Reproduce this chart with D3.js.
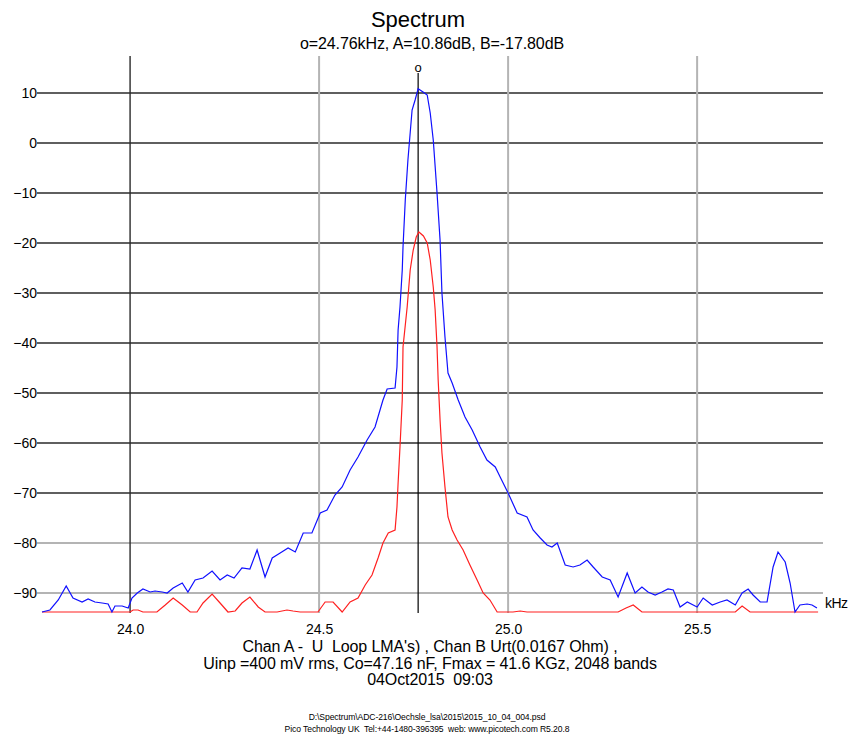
<!DOCTYPE html>
<html>
<head>
<meta charset="utf-8">
<script src="https://cdn.jsdelivr.net/npm/d3@7"></script>
<style>
  html, body { margin: 0; padding: 0; background: #fff; }
  svg text { font-family: "Liberation Sans", Arial, sans-serif; fill: #000; white-space: pre; }
</style>
</head>
<body>
<svg id="chart" width="855" height="743"></svg>
<script>
// ---------------- data ----------------
const title = "Spectrum";
const subtitle = "o=24.76kHz, A=10.86dB, B=-17.80dB";
const markerFreq = 24.762;

const yTicks = [10, 0, -10, -20, -30, -40, -50, -60, -70, -80, -90];
const yTicksLight = [-80, -90];
const xTicks = [24.0, 24.5, 25.0, 25.5];
const xTickLabels = ["24.0", "24.5", "25.0", "25.5"];
const xTicksDark = [24.0];
const xUnit = "kHz";

const chanAFreq = [23.767, 23.788, 23.810, 23.831, 23.849, 23.873, 23.889, 23.907, 23.926, 23.942, 23.952, 23.960, 23.979, 23.995,
  24.005, 24.019, 24.034, 24.053, 24.066, 24.085, 24.098, 24.114, 24.138, 24.153, 24.172, 24.193, 24.217, 24.238, 24.257, 24.275,
  24.296, 24.317, 24.336, 24.357, 24.376, 24.397, 24.418, 24.437, 24.458, 24.481, 24.503, 24.521, 24.542, 24.561, 24.582, 24.603,
  24.627, 24.648, 24.669, 24.680, 24.701, 24.706, 24.709, 24.714, 24.720, 24.722, 24.728, 24.735, 24.746, 24.754, 24.762, 24.775,
  24.786, 24.794, 24.802, 24.812, 24.820, 24.825, 24.833, 24.841, 24.852, 24.868, 24.886, 24.905, 24.926, 24.944, 24.966, 24.979,
  25.000, 25.024, 25.050, 25.066, 25.085, 25.103, 25.116, 25.130, 25.151, 25.172, 25.190, 25.209, 25.225, 25.249, 25.270, 25.291,
  25.315, 25.336, 25.354, 25.370, 25.389, 25.407, 25.423, 25.437, 25.455, 25.474, 25.500, 25.516, 25.540, 25.561, 25.579, 25.601,
  25.619, 25.635, 25.648, 25.667, 25.685, 25.701, 25.714, 25.733, 25.746, 25.759, 25.772, 25.791, 25.804, 25.817];
const chanADb = [-93.8, -93.4, -91.4, -88.6, -91.0, -91.8, -91.2, -91.8, -92.0, -92.2, -93.8, -92.6, -92.6, -93.0,
  -91.0, -90.0, -89.2, -89.8, -89.6, -89.8, -90.0, -89.0, -88.0, -89.8, -87.4, -87.0, -85.6, -87.4, -86.4, -87.0,
  -85.0, -85.2, -81.4, -86.8, -83.0, -82.0, -81.0, -81.8, -78.0, -78.0, -74.0, -73.4, -70.4, -68.8, -65.4, -62.8,
  -59.4, -56.8, -51.4, -49.2, -49.0, -44.8, -37.4, -32.8, -25.4, -20.8, -11.4, -3.4, 6.6, 8.6, 10.86, 10.2,
  9.6, 6.0, 0.6, -10.0, -19.4, -30.0, -38.8, -46.0, -48.0, -51.4, -54.8, -57.4, -60.8, -63.4, -64.8, -66.8,
  -70.0, -74.0, -74.8, -77.4, -79.0, -80.4, -80.8, -80.0, -84.4, -84.8, -84.4, -83.4, -84.8, -86.8, -87.4, -90.8,
  -86.0, -90.0, -88.8, -89.8, -90.4, -89.8, -89.2, -89.4, -92.8, -91.8, -92.8, -91.0, -92.4, -91.8, -91.4, -92.4,
  -90.0, -89.2, -90.4, -91.8, -91.8, -84.8, -81.8, -83.8, -88.0, -93.8, -92.4, -92.2, -92.4, -93.0];

const chanBFreq = [23.767, 24.000, 24.008, 24.021, 24.034, 24.071, 24.093, 24.114, 24.138, 24.159, 24.177, 24.193, 24.217, 24.238,
  24.259, 24.278, 24.296, 24.317, 24.339, 24.357, 24.389, 24.415, 24.431, 24.450, 24.497, 24.516, 24.537, 24.561, 24.582,
  24.603, 24.622, 24.640, 24.656, 24.669, 24.683, 24.701, 24.706, 24.709, 24.714, 24.720, 24.722, 24.733, 24.741, 24.749,
  24.757, 24.764, 24.776, 24.786, 24.794, 24.802, 24.807, 24.812, 24.815, 24.820, 24.825, 24.833, 24.841, 24.852, 24.865,
  24.881, 24.899, 24.918, 24.934, 24.952, 24.971, 25.013, 25.032, 25.050, 25.291, 25.312, 25.331, 25.354, 25.601, 25.619,
  25.640, 25.820];
const chanBDb = [-93.8, -93.8, -93.4, -93.4, -93.8, -93.8, -92.4, -91.0, -92.4, -93.8, -93.8, -92.0, -90.2, -92.0,
  -93.8, -93.6, -92.0, -90.8, -92.8, -93.8, -93.8, -93.4, -93.6, -93.8, -93.8, -91.8, -91.8, -93.8, -91.8,
  -91.0, -88.4, -86.4, -83.0, -80.0, -78.0, -77.4, -72.8, -68.0, -60.8, -51.4, -40.8, -32.8, -25.4, -21.4,
  -18.8, -17.8, -18.6, -20.0, -23.4, -28.8, -33.4, -40.8, -47.4, -55.4, -62.0, -68.8, -74.8, -77.4, -79.4,
  -81.4, -84.4, -87.4, -90.0, -91.4, -93.8, -93.8, -93.6, -93.8, -93.8, -93.0, -92.4, -93.8, -93.8, -92.6,
  -93.8, -93.8];

const footnoteLines = [
  "Chan A -  U  Loop LMA's) , Chan B Urt(0.0167 Ohm) ,",
  "Uinp =400 mV rms, Co=47.16 nF, Fmax = 41.6 KGz, 2048 bands",
  "04Oct2015  09:03"
];
const smallLines = [
  "D:\\Spectrum\\ADC-216\\Oechsle_lsa\\2015\\2015_10_04_004.psd",
  "Pico Technology UK  Tel:+44-1480-396395  web: www.picotech.com R5.20.8"
];

// ---------------- drawing ----------------
const svg = d3.select("#chart");
const x = d3.scaleLinear().domain([23.767, 25.833]).range([42, 823]);
const y = d3.scaleLinear().domain([-94, 17.4]).range([613, 56]);

// horizontal grid
svg.append("g").selectAll("line").data(yTicks).join("line")
  .attr("x1", 37).attr("x2", 823)
  .attr("y1", d => y(d)).attr("y2", d => y(d))
  .attr("stroke", d => yTicksLight.includes(d) ? "#b4b4b4" : "#2a2a2a")
  .attr("stroke-width", d => yTicksLight.includes(d) ? 2 : 1.4);

// vertical grid
svg.append("g").selectAll("line").data(xTicks).join("line")
  .attr("x1", d => x(d)).attr("x2", d => x(d))
  .attr("y1", 56).attr("y2", 613)
  .attr("stroke", d => xTicksDark.includes(d) ? "#2a2a2a" : "#b4b4b4")
  .attr("stroke-width", d => xTicksDark.includes(d) ? 1.4 : 2);

// Y axis labels
const yAxis = d3.axisLeft(y).tickValues(yTicks).tickSize(0).tickPadding(0).tickFormat(d3.format("d"));
const gy = svg.append("g").attr("transform", "translate(37,0)").call(yAxis);
gy.select(".domain").remove();
gy.selectAll("text").attr("font-size", 14).attr("font-family", "Liberation Sans, Arial, sans-serif").attr("dy", "0.35em");

// X axis labels
const xAxis = d3.axisBottom(x).tickValues(xTicks).tickSize(0).tickPadding(0).tickFormat((d, i) => xTickLabels[i]);
const gx = svg.append("g").attr("transform", "translate(0,624)").call(xAxis);
gx.select(".domain").remove();
gx.selectAll("text").attr("font-size", 14).attr("font-family", "Liberation Sans, Arial, sans-serif").attr("dy", "0.71em");

svg.append("text").attr("x", 825).attr("y", y(-92.0)).attr("dy", "0.35em")
  .attr("font-size", 14).attr("letter-spacing", -0.5).text(xUnit);

// marker line
svg.append("line").attr("x1", x(markerFreq)).attr("x2", x(markerFreq))
  .attr("y1", 73).attr("y2", 613).attr("stroke", "#000").attr("stroke-width", 1.2);
svg.append("text").attr("x", x(markerFreq)).attr("y", 72).attr("text-anchor", "middle")
  .attr("font-size", 13).text("o");

// series
const line = d3.line().x(d => x(d[0])).y(d => y(d[1]));
svg.append("path").datum(chanBFreq.map((f, i) => [f, chanBDb[i]]))
  .attr("d", line).attr("fill", "none").attr("stroke", "#ff2020").attr("stroke-width", 1.2);
svg.append("path").datum(chanAFreq.map((f, i) => [f, chanADb[i]]))
  .attr("d", line).attr("fill", "none").attr("stroke", "#1010ff").attr("stroke-width", 1.2);

// titles
svg.append("text").attr("x", 418).attr("y", 27).attr("text-anchor", "middle")
  .attr("font-size", 22).text(title);
svg.append("text").attr("x", 432).attr("y", 49).attr("text-anchor", "middle")
  .attr("font-size", 16).attr("letter-spacing", -0.1).text(subtitle);

// footnotes
svg.append("g").selectAll("text").data(footnoteLines).join("text")
  .attr("x", 430).attr("y", (d, i) => 652 + i * 16.5).attr("text-anchor", "middle")
  .attr("font-size", 16).attr("letter-spacing", -0.1).text(d => d);

svg.append("g").selectAll("text").data(smallLines).join("text")
  .attr("x", 427).attr("y", (d, i) => 720 + i * 12).attr("text-anchor", "middle")
  .attr("font-size", 8.6).attr("letter-spacing", -0.1).text(d => d);
</script>
</body>
</html>
